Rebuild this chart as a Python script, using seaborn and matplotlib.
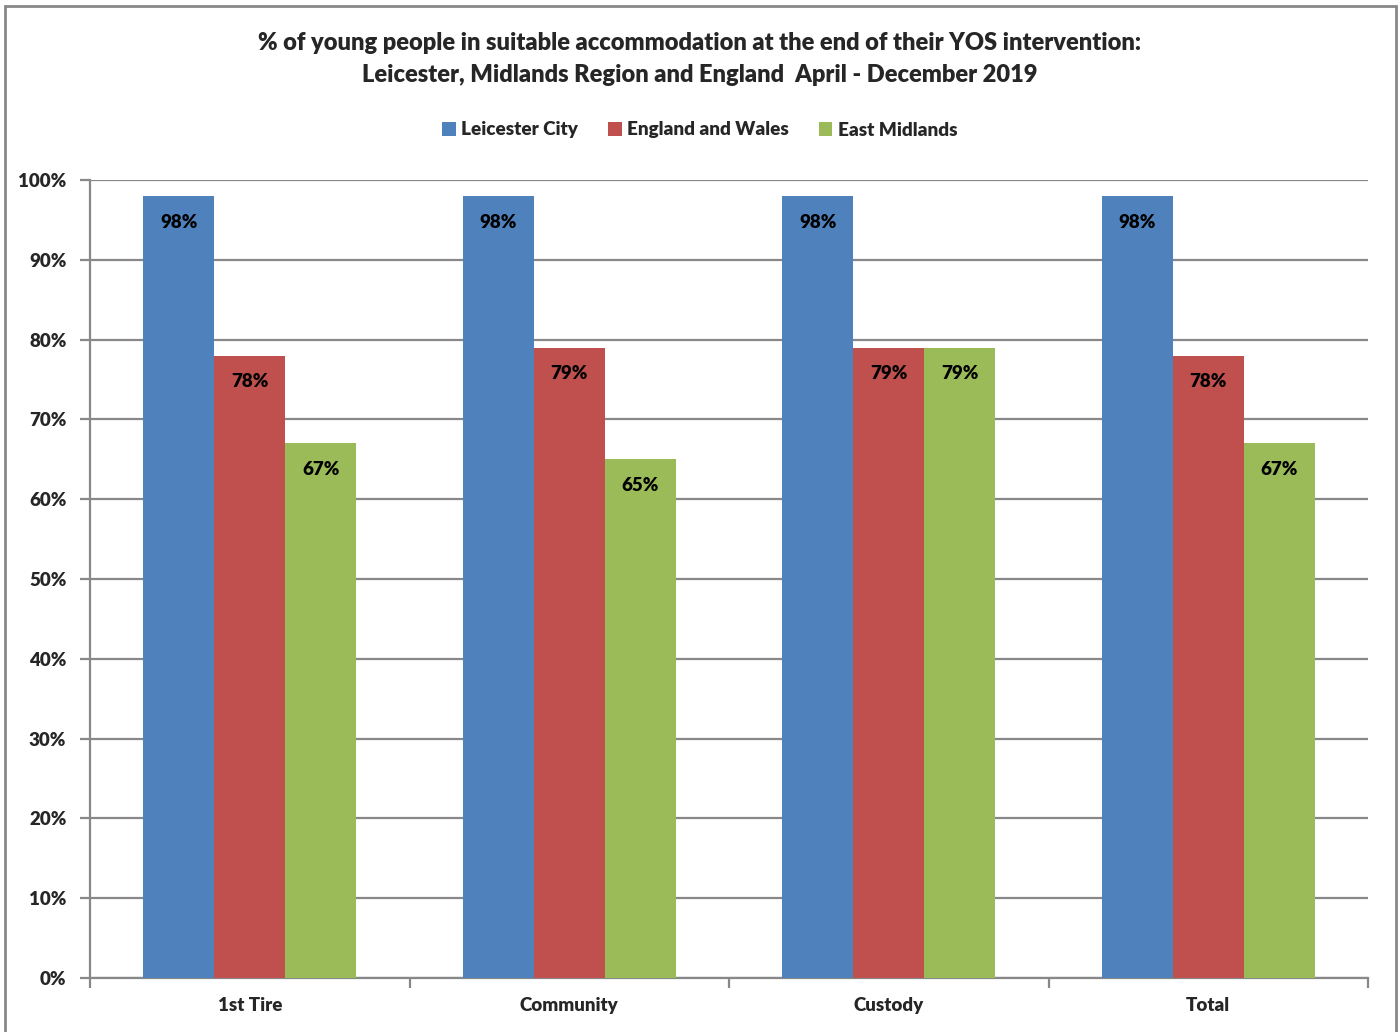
import matplotlib
matplotlib.use("Agg")
import matplotlib.pyplot as plt
from matplotlib.patches import Rectangle
from matplotlib.ticker import MultipleLocator, PercentFormatter
import seaborn as sns
import pandas as pd

categories = ["1st Tire", "Community", "Custody", "Total"]
series = ["Leicester City", "England and Wales", "East Midlands"]
leicester_city = [98, 98, 98, 98]
england_wales = [78, 79, 79, 78]
east_midlands = [67, 65, 79, 67]
colors = ["#4F81BD", "#C0504D", "#9BBB59"]

title_text = ("% of young people in suitable accommodation at the end of their YOS intervention:\n"
              "Leicester, Midlands Region and England  April - December 2019")

rows = []
for name, vals in zip(series, [leicester_city, england_wales, east_midlands]):
    for cat, v in zip(categories, vals):
        rows.append({"Category": cat, "Series": name, "Value": v})
df = pd.DataFrame(rows)

sns.set_theme(style="white")
plt.rcParams["font.family"] = ["Lato", "DejaVu Sans"]
plt.rcParams["font.weight"] = "bold"

fig = plt.figure(figsize=(14, 10.32), dpi=100)
ax = fig.add_axes([90 / 1400, 1 - 978 / 1032, (1368 - 90) / 1400, (978 - 180) / 1032])

sns.barplot(data=df, x="Category", y="Value", hue="Series", order=categories,
            hue_order=series, palette=colors, width=0.667, saturation=1,
            linewidth=0, errorbar=None, ax=ax, zorder=3)

grid_c = "#888888"
ax.set_ylim(0, 100)
ax.set_xlim(-0.5, len(categories) - 0.5)
ax.yaxis.set_major_locator(MultipleLocator(10))
ax.yaxis.set_major_formatter(PercentFormatter(decimals=0))
ax.yaxis.grid(True, color=grid_c, linewidth=1.6, zorder=0)
ax.set_axisbelow(True)
for s in ["top", "right"]:
    ax.spines[s].set_visible(False)
for s in ["left", "bottom"]:
    ax.spines[s].set_color(grid_c)
    ax.spines[s].set_linewidth(1.6)

ax.set_xlabel("")
ax.set_ylabel("")
ax.tick_params(axis="y", which="major", length=7, width=1.6, color=grid_c,
               direction="out", left=True, labelsize=13.5, pad=10)
ax.tick_params(axis="x", which="major", length=0, labelsize=13.5, pad=14)
# category boundary ticks on the x axis
ax.set_xticks([i - 0.5 for i in range(len(categories) + 1)], minor=True)
ax.tick_params(axis="x", which="minor", length=7, width=1.6, color=grid_c,
               direction="out", bottom=True)
for lab in ax.get_xticklabels() + ax.get_yticklabels():
    lab.set_fontweight("heavy")

# value labels inside the top of each bar
for cont in ax.containers:
    for bar in cont:
        h = bar.get_height()
        ax.annotate(f"{h:.0f}%", (bar.get_x() + bar.get_width() / 2, h),
                    xytext=(0, -19), textcoords="offset points",
                    ha="center", va="center", fontsize=13.5, fontweight="heavy",
                    color="black", zorder=5)

# legend above the plot
handles, labels = ax.get_legend_handles_labels()
ax.legend(handles, labels, loc="center", bbox_to_anchor=(0.5, 1 - 130 / 1032),
          bbox_transform=fig.transFigure, ncol=3, frameon=False,
          handlelength=0.7, handleheight=0.7, handletextpad=0.3, columnspacing=1.6,
          prop={"weight": "heavy", "size": 13.6})

fig.text(0.5, 1 - 59 / 1032, title_text, ha="center", va="center",
         fontsize=17, fontweight="heavy", linespacing=1.5)

# outer chart border
fig.patches.append(Rectangle((5 / 1400, -0.01), 1391 / 1400, 1 - 6 / 1032 + 0.01,
                             transform=fig.transFigure, fill=False,
                             edgecolor=grid_c, linewidth=2))

fig.savefig("out.png", dpi=100, facecolor="white")
